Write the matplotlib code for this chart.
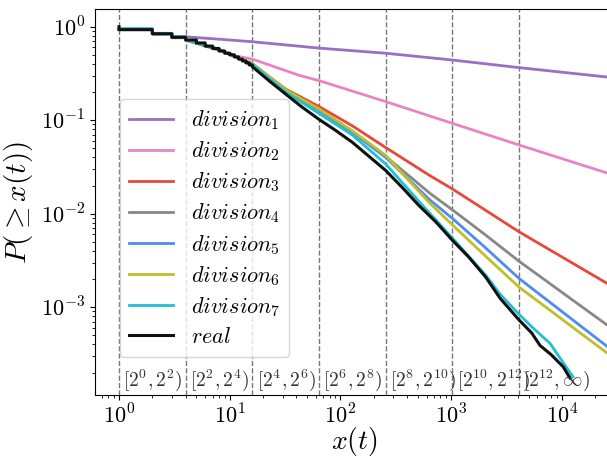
import numpy as np
import matplotlib
matplotlib.use('Agg')
import matplotlib.pyplot as plt
from matplotlib.ticker import FuncFormatter, LogLocator

plt.rcParams.update({
    "mathtext.fontset": "cm",
    "font.family": "serif",
})

# step levels of the empirical CCDF on [1,2), [2,3), ...
real_start = 1.0
real_steps = [0.93, 0.84, 0.77, 0.72, 0.67, 0.62, 0.585, 0.55, 0.52, 0.50,
              0.475, 0.45, 0.43, 0.41, 0.39]
real_x = [16, 23, 32, 45, 64, 90, 128, 181, 256, 362, 512, 724, 1024, 1450,
          2048, 2755, 4096, 5330, 6330, 8000, 10270, 11800]
real_p = [0.373, 0.26, 0.19, 0.138, 0.102, 0.078, 0.058, 0.041, 0.029, 0.019,
          0.0122, 0.0082, 0.0052, 0.0034, 0.0021, 0.00125, 7.3e-4, 5.3e-4,
          3.9e-4, 3.1e-4, 2.3e-4, 1.75e-4]

div_steps = {
    1: [0.93, 0.84, 0.78],
    2: [0.93, 0.84, 0.76],
    3: [0.93, 0.84, 0.77],
    4: [0.93, 0.84, 0.77],
    5: [0.93, 0.84, 0.77],
    6: [0.94, 0.845, 0.775],
    7: [0.955, 0.85, 0.78],
}
div_x = {
    1: [4, 8, 16, 64, 256, 1024, 4096, 28900],
    2: [4, 6, 8, 11, 16, 43, 64, 256, 1024, 4096, 28900],
    3: [4, 8, 16, 32, 64, 128, 256, 643, 1024, 4096, 28900],
    4: [4, 8, 16, 32, 64, 128, 256, 643, 1024, 2048, 4096, 28900],
    5: [4, 8, 16, 32, 64, 128, 256, 643, 1024, 2048, 4096, 28900],
    6: [4, 8, 16, 32, 64, 128, 256, 643, 1024, 2048, 4096, 28900],
    7: [4, 8, 16, 32, 64, 128, 256, 512, 1024, 2048, 2755, 4096, 5470, 7800, 12570],
}
div_p = {
    1: [0.78, 0.735, 0.69, 0.59, 0.52, 0.44, 0.365, 0.285],
    2: [0.72, 0.62, 0.555, 0.49, 0.45, 0.30, 0.265, 0.158, 0.0925, 0.0543, 0.026],
    3: [0.72, 0.57, 0.40, 0.215, 0.14, 0.087, 0.051, 0.0255, 0.0184, 0.0064, 0.00165],
    4: [0.72, 0.57, 0.40, 0.21, 0.13, 0.075, 0.041, 0.0165, 0.011, 0.0059, 0.0031, 0.00058],
    5: [0.72, 0.57, 0.40, 0.208, 0.128, 0.074, 0.040, 0.014, 0.0089, 0.0043, 0.00203, 0.00034],
    6: [0.72, 0.575, 0.405, 0.212, 0.132, 0.077, 0.042, 0.0129, 0.0076, 0.0035, 0.00164, 0.00029],
    7: [0.73, 0.565, 0.395, 0.20, 0.118, 0.0695, 0.034, 0.0135, 0.0055, 0.0022, 0.00138,
        8.4e-4, 6.0e-4, 4.1e-4, 1.8e-4],
}
colors = ['#9a6fc4', '#e883c8', '#e8483b', '#888888', '#4d8cf2', '#bfbf2a', '#1fc0d0']

bounds = [1, 4, 16, 64, 256, 1024, 4096]
intervals = [r'$[2^0,2^2)$', r'$[2^2,2^4)$', r'$[2^4,2^6)$', r'$[2^6,2^8)$',
             r'$[2^8,2^{10})$', r'$[2^{10},2^{12})$', r'$[2^{12},\infty)$']


def make_path(steps, tail_x, tail_p):
    xs, ys = [], []
    for i, lv in enumerate(steps):
        xs += [1 + i, 2 + i]
        ys += [lv, lv]
    return xs + list(tail_x), ys + list(tail_p)


fig = plt.figure(figsize=(6.07, 4.58), dpi=100)
ax = fig.add_axes([95 / 607, 63 / 458, 518 / 607, 386 / 458])

for b in bounds:
    ax.axvline(b, color='#777777', ls='--', lw=1.0, zorder=0)

for k in range(1, 8):
    xs, ys = make_path(div_steps[k], div_x[k], div_p[k])
    ax.plot(xs, ys, color=colors[k - 1], lw=2, label=r'$division_%d$' % k)

xs, ys = make_path(real_steps, real_x, real_p)
ax.plot([1] + xs, [real_start] + ys, color='#111111', lw=2.2, label=r'$real$')

for b, s in zip(bounds, intervals):
    ax.annotate(s, xy=(b, 0), xycoords=('data', 'axes fraction'),
                xytext=(3, 1.5), textcoords='offset points',
                ha='left', va='bottom', fontsize=14, color='#333333')

ax.set_xscale('log')
ax.set_yscale('log')
ax.set_xlim(0.607, 28900)
ax.set_ylim(1.15e-4, 1.546)
fmt = FuncFormatter(lambda v, p: r'$10^{%d}$' % round(np.log10(v)))
ax.xaxis.set_major_formatter(fmt)
ax.yaxis.set_major_formatter(fmt)
ax.xaxis.set_major_locator(LogLocator(base=10, numticks=10))
ax.yaxis.set_major_locator(LogLocator(base=10, numticks=10))
ax.tick_params(labelsize=16)
ax.tick_params(axis='x', pad=3)
ax.set_xlabel(r'$x(t)$', fontsize=20, labelpad=-2)
ax.set_ylabel(r'$P(\geq x(t))$', fontsize=21, labelpad=4)

ax.legend(loc='lower left', bbox_to_anchor=(25 / 518, 38 / 386), borderaxespad=0,
          fontsize=16, labelspacing=0.33)

fig.savefig('out.png', dpi=100)
